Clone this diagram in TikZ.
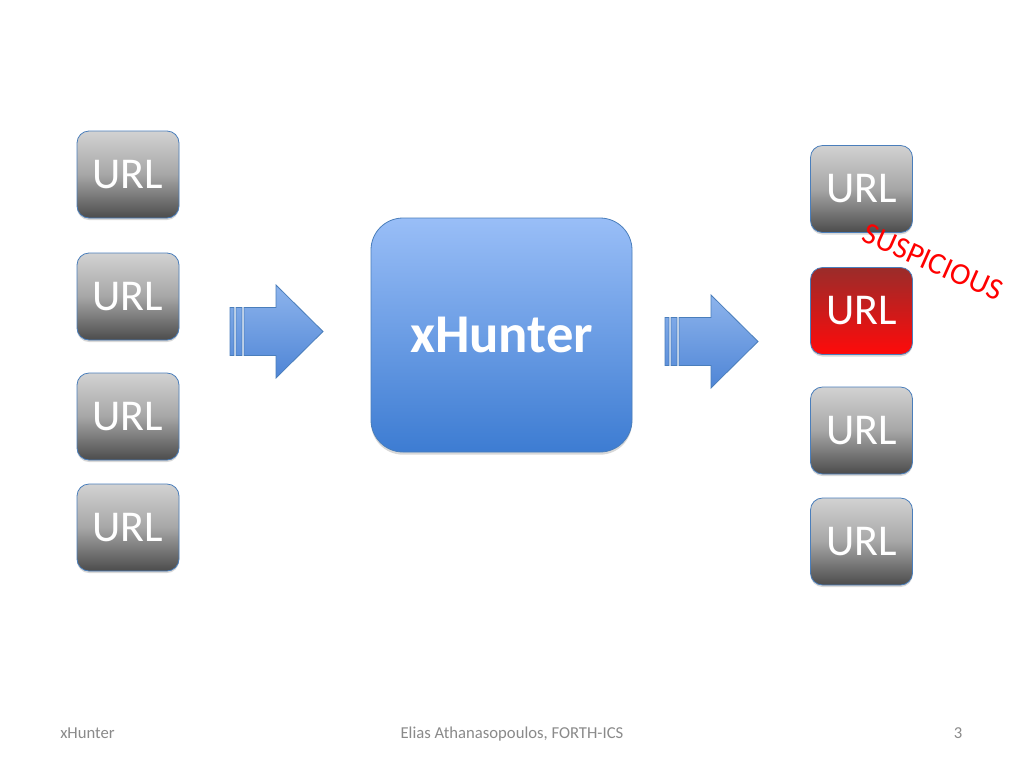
\documentclass[tikz,border=0pt]{standalone}
\usepackage{fontspec}
\setmainfont{Carlito}
\usetikzlibrary{shadows}
\definecolor{boxline}{HTML}{4A7EBB}
\definecolor{greytop}{HTML}{D2D2D2}
\definecolor{greymid}{HTML}{A6A6A6}
\definecolor{greybot}{HTML}{4C4C4C}
\definecolor{redtop}{HTML}{9A2C2A}
\definecolor{redbot}{HTML}{FF0A0A}
\definecolor{hubtop}{HTML}{99BEF7}
\definecolor{hubbot}{HTML}{3D7CD2}
\definecolor{arrtop}{HTML}{8DB4EC}
\definecolor{arrbot}{HTML}{4F85D6}
\definecolor{footgrey}{HTML}{8A8A8A}
\definecolor{alertred}{HTML}{FF0000}
\tikzset{
  pics/blockarrow/.style={code={
    \path[draw=boxline, line width=0.6pt, top color=arrtop, bottom color=arrbot]
      (0,-24) rectangle (4,24)
      (6,-24) rectangle (12,24)
      (14,-24) -- (46,-24) -- (46,-46.5) -- (93,0) -- (46,46.5) -- (46,24) -- (14,24) -- cycle;
  }}
}
\begin{document}
\begin{tikzpicture}[x=0.75pt, y=-0.75pt,
  urlbox/.style={draw=boxline, line width=0.6pt, rounded corners=9pt,
    minimum width=76.5pt, minimum height=65.25pt, inner sep=0pt,
    text=white, font=\fontsize{33}{36}\selectfont,
    drop shadow={shadow xshift=0pt, shadow yshift=-1.5pt, opacity=0.3}},
  greyurl/.style={urlbox, top color=greytop, bottom color=greybot, middle color=greymid},
  redurl/.style={urlbox, top color=redtop, bottom color=redbot},
  hubbox/.style={draw=boxline, line width=0.6pt, rounded corners=24pt,
    minimum width=195.75pt, minimum height=175.5pt, inner sep=0pt,
    top color=hubtop, bottom color=hubbot, text=white,
    font=\bfseries\fontsize{41}{48}\selectfont,
    drop shadow={shadow xshift=0pt, shadow yshift=-2pt, opacity=0.3}},
  foot/.style={text=footgrey, font=\fontsize{12.5}{15}\selectfont, inner sep=0pt}]
\path[use as bounding box, fill=white] (0,0) rectangle (1024,768);
% incoming urls
\node[greyurl] (in1) at (128,174.5) {URL};
\node[greyurl] (in2) at (128,296.5) {URL};
\node[greyurl] (in3) at (128,416.5) {URL};
\node[greyurl] (in4) at (128,527.5) {URL};
% the hunter
\node[hubbox] (hub) at (501.5,335) {xHunter};
% classified urls
\node[greyurl] (out1) at (861.5,189) {URL};
\node[redurl] (out2) at (861.5,311) {URL};
\node[greyurl] (out3) at (861.5,430.5) {URL};
\node[greyurl] (out4) at (861.5,541.5) {URL};
\node[text=alertred, rotate=-24, font=\fontsize{23}{26}\selectfont, inner sep=0pt] (tag) at (933,262) {SUSPICIOUS};
% block arrows
\pic at (230,331.5) {blockarrow};
\pic at (665,341.5) {blockarrow};
% footer
\node[foot, anchor=base west] (ftitle) at (60,738) {xHunter};
\node[foot, anchor=base] (fauthor) at (512,738) {Elias Athanasopoulos, FORTH-ICS};
\node[foot, anchor=base] (fpage) at (958,738) {3};
\end{tikzpicture}
\end{document}
